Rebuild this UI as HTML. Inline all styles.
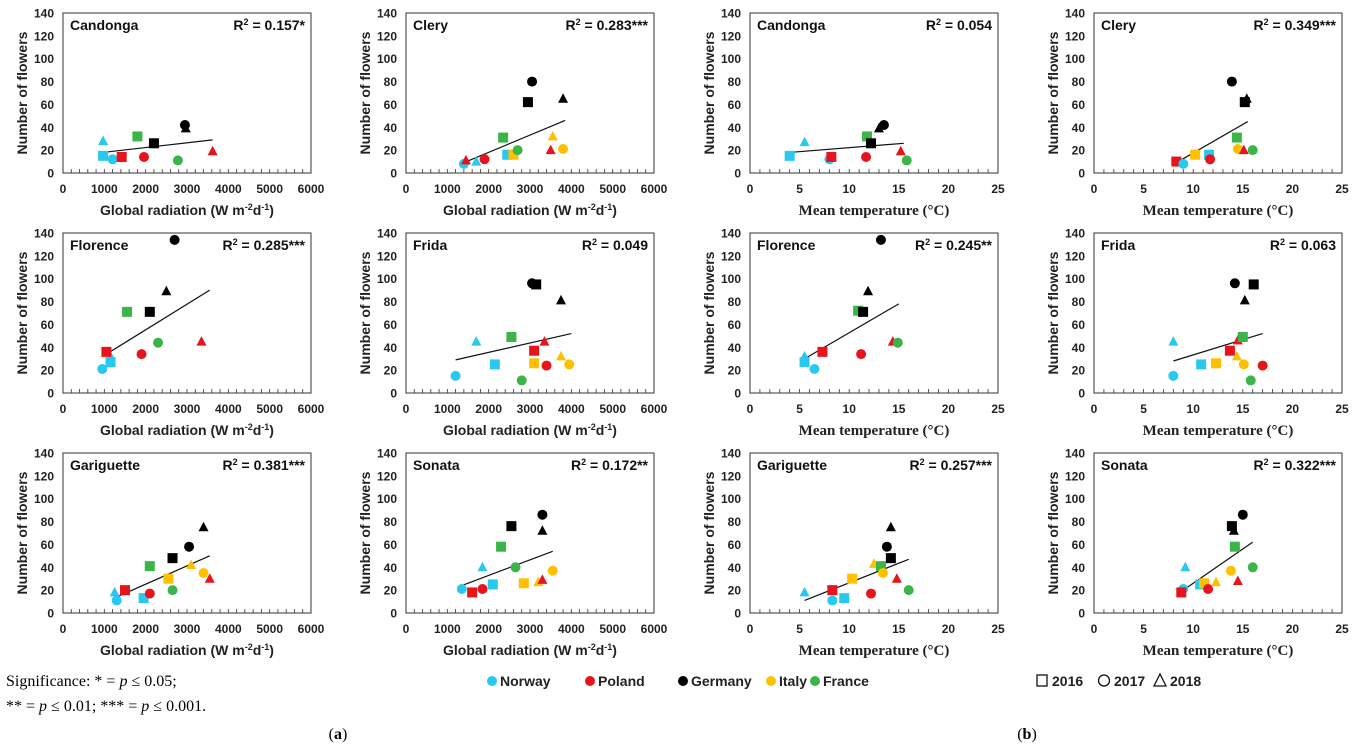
<!DOCTYPE html>
<html><head><meta charset="utf-8"><style>
body{margin:0;background:#fff}
svg{display:block;font-family:"Liberation Sans",sans-serif}
</style></head><body>
<svg id="fig" width="1366" height="747" viewBox="0 0 1366 747" xmlns="http://www.w3.org/2000/svg">
<g id="panels"></g>
<g font-family="Liberation Serif, serif" font-size="16">
<text x="6" y="686">Significance: * = <tspan font-style="italic">p</tspan> ≤ 0.05;</text>
<text x="6" y="711">** = <tspan font-style="italic">p</tspan> ≤ 0.01; *** = <tspan font-style="italic">p</tspan> ≤ 0.001.</text>
<text x="338" y="739" text-anchor="middle">(<tspan font-weight="bold">a</tspan>)</text>
<text x="1027" y="739" text-anchor="middle">(<tspan font-weight="bold">b</tspan>)</text>
</g>
<g id="legend" font-size="14" font-weight="bold"></g>
</svg>
<script>
const colors = {N:"#29c8ef",P:"#e8141c",G:"#000000",I:"#ffc000",F:"#3bb54a"};
const countryNames = ["Norway","Poland","Germany","Italy","France"];
const countryCodes = ["N","P","G","I","F"];
const yearLabels = ["2016","2017","2018"];
const radTicks = [0,1000,2000,3000,4000,5000,6000];
const tempTicks = [0,5,10,15,20,25];
const yTicks = [0,20,40,60,80,100,120,140];
// [country, year(16 square,17 circle,18 triangle), x, y]
const radCandonga = [["N",18,970,28],["N",16,970,15],["N",17,1200,12],["P",16,1420,14],["P",17,1960,14],["F",16,1800,32],["G",16,2200,26],["G",17,2950,42],["G",18,2970,39],["F",17,2780,11],["P",18,3620,19]];
const radClery = [["N",17,1400,8],["P",18,1450,11],["N",18,1700,10],["P",17,1900,12],["F",16,2350,31],["N",16,2450,16],["I",16,2600,16],["F",17,2700,20],["G",16,2950,62],["G",17,3050,80],["G",18,3800,65],["I",18,3550,32],["P",18,3500,20],["I",17,3800,21]];
const radFlorence = [["N",17,950,21],["N",16,1150,27],["N",18,1150,32],["P",16,1050,36],["P",17,1900,34],["F",16,1550,71],["F",17,2300,44],["G",16,2100,71],["G",18,2500,89],["G",17,2700,134],["P",18,3350,45]];
const radFrida = [["N",17,1200,15],["N",18,1700,45],["N",16,2150,25],["F",16,2550,49],["F",17,2800,11],["G",17,3050,96],["G",16,3150,95],["G",18,3750,81],["P",16,3100,37],["I",16,3100,26],["P",18,3350,45],["P",17,3400,24],["I",18,3750,32],["I",17,3950,25]];
const radGariguette = [["N",18,1250,18],["N",17,1300,11],["P",16,1500,20],["N",16,1950,13],["P",17,2100,17],["F",16,2100,41],["I",16,2550,30],["F",17,2650,20],["G",16,2650,48],["G",17,3050,58],["I",18,3100,42],["G",18,3400,75],["I",17,3400,35],["P",18,3550,30]];
const radSonata = [["N",17,1350,21],["P",16,1600,18],["P",17,1850,21],["N",18,1850,40],["N",16,2100,25],["F",16,2300,58],["G",16,2550,76],["F",17,2650,40],["I",16,2850,26],["I",18,3200,27],["P",18,3300,29],["G",17,3300,86],["G",18,3300,72],["I",17,3550,37]];
const tempCandonga = [["N",16,4,15],["N",18,5.5,27],["N",17,8,12],["P",16,8.2,14],["P",17,11.7,14],["F",16,11.8,32],["G",16,12.2,26],["G",18,13,39],["G",17,13.5,42],["P",18,15.2,19],["F",17,15.8,11]];
const tempClery = [["P",16,8.3,10],["N",17,9,8],["I",16,10.2,16],["N",16,11.6,16],["P",17,11.7,12],["G",17,13.9,80],["F",16,14.4,31],["I",17,14.5,21],["P",18,15.1,20],["G",16,15.2,62],["G",18,15.4,65],["F",17,16,20]];
const tempFlorence = [["N",18,5.5,32],["N",16,5.5,27],["N",17,6.5,21],["P",16,7.3,36],["F",16,10.9,72],["G",16,11.4,71],["G",18,11.9,89],["P",17,11.2,34],["G",17,13.2,134],["P",18,14.4,45],["F",17,14.9,44]];
const tempFrida = [["N",18,8,45],["N",17,8,15],["N",16,10.8,25],["I",16,12.3,26],["P",16,13.7,37],["G",17,14.2,96],["I",18,14.4,32],["P",18,14.5,46],["F",16,15,49],["I",17,15.1,25],["G",18,15.2,81],["G",16,16.1,95],["F",17,15.8,11],["P",17,17,24]];
const tempGariguette = [["N",18,5.5,18],["P",16,8.3,20],["N",17,8.3,11],["N",16,9.5,13],["I",16,10.3,30],["P",17,12.2,17],["I",18,12.5,43],["F",16,13.2,41],["I",17,13.4,35],["G",17,13.8,58],["G",16,14.2,48],["G",18,14.2,75],["P",18,14.8,30],["F",17,16,20]];
const tempSonata = [["N",17,9,21],["N",18,9.2,40],["P",16,8.8,18],["N",16,10.7,25],["I",16,11.1,26],["P",17,11.5,21],["I",18,12.3,27],["I",17,13.8,37],["G",16,13.9,76],["G",18,14.1,72],["F",16,14.2,58],["P",18,14.5,28],["G",17,15,86],["F",17,16,40]];
const trends = {
 radCandonga:[970,18,3620,29], radClery:[1400,9,3850,46], radFlorence:[1050,34,3550,90], radFrida:[1200,29,4000,52], radGariguette:[1300,14,3550,50], radSonata:[1350,24,3550,54],
 tempCandonga:[4,18,15.5,26], tempClery:[8.5,10,15.5,45], tempFlorence:[5.5,30,15,78], tempFrida:[8,28,17,52], tempGariguette:[5.5,11,16,47], tempSonata:[9,20,16,62]};
const panelDefs = [
 ["radCandonga",radCandonga,"Candonga","0.157*",0,0,"rad"],["radClery",radClery,"Clery","0.283***",1,0,"rad"],
 ["tempCandonga",tempCandonga,"Candonga","0.054",2,0,"temp"],["tempClery",tempClery,"Clery","0.349***",3,0,"temp"],
 ["radFlorence",radFlorence,"Florence","0.285***",0,1,"rad"],["radFrida",radFrida,"Frida","0.049",1,1,"rad"],
 ["tempFlorence",tempFlorence,"Florence","0.245**",2,1,"temp"],["tempFrida",tempFrida,"Frida","0.063",3,1,"temp"],
 ["radGariguette",radGariguette,"Gariguette","0.381***",0,2,"rad"],["radSonata",radSonata,"Sonata","0.172**",1,2,"rad"],
 ["tempGariguette",tempGariguette,"Gariguette","0.257***",2,2,"temp"],["tempSonata",tempSonata,"Sonata","0.322***",3,2,"temp"]];
const NS="http://www.w3.org/2000/svg";
function mk(tag,attrs,parent){const e=document.createElementNS(NS,tag);for(const k in attrs)e.setAttribute(k,attrs[k]);if(parent)parent.appendChild(e);return e;}
const colLeft=[63,406,750,1094], rowTop=[13,233,453], W=248, H=160;
function marker(g,code,year,cx,cy){
  let m;
  if(year===16){m=mk('rect',{x:cx-5,y:cy-5,width:10,height:10,fill:colors[code]},g);}
  else if(year===17){m=mk('circle',{cx:cx,cy:cy,r:5,fill:colors[code]},g);}
  else {m=mk('polygon',{points:`${cx},${cy-5.5} ${cx+5},${cy+4} ${cx-5},${cy+4}`,fill:colors[code]},g);}
  return m;
}
const root=document.getElementById('panels');
panelDefs.forEach(d=>{
  const [key,pts,name,r2,col,row,kind]=d;
  const L=colLeft[col],T=rowTop[row];
  const xmax=kind==="rad"?6000:25;
  const sx=v=>L+v/xmax*W, sy=v=>T+H-v/140*H;
  const g=mk('g',{},root);
  
  
  const box=mk('rect',{x:L,y:T,width:W,height:H,fill:'none',stroke:'#333','stroke-width':1},g);
  
  
  // minor ticks
  const step=kind==="rad"?200:1;
  for(let v=step;v<xmax;v+=step){const t=mk('line',{x1:sx(v),x2:sx(v),y1:T+H,y2:T+H-4,stroke:'#333','stroke-width':0.8},g);}
  const ticks=kind==="rad"?radTicks:tempTicks;
  ticks.forEach(v=>{const t=mk('text',{x:sx(v),y:T+H+20,'text-anchor':'middle','font-size':12,'font-weight':'bold',fill:'#222'},g);t.textContent=v;});
  yTicks.forEach(v=>{const t=mk('text',{x:L-9,y:sy(v)+4.5,'text-anchor':'end','font-size':12,'font-weight':'bold',fill:'#222'},g);t.textContent=v;});
  const yt=mk('text',{x:0,y:0,transform:`translate(${L-36},${T+H/2}) rotate(-90)`,'text-anchor':'middle','font-size':14,'font-weight':'bold',fill:'#222'},g);
  yt.textContent='Number of flowers';
  
  
  let xt;
  if(kind==="rad"){xt=mk('text',{x:L+W/2,y:T+H+42,'text-anchor':'middle','font-size':14,'font-weight':'bold',fill:'#222'},g);
    xt.innerHTML='Global radiation (W m<tspan baseline-shift="super" font-size="9">-2</tspan>d<tspan baseline-shift="super" font-size="9">-1</tspan>)';}
  else {xt=mk('text',{x:L+W/2,y:T+H+42,'text-anchor':'middle','font-size':15,'font-weight':'bold','font-family':'Liberation Serif, serif',fill:'#222'},g);xt.textContent='Mean temperature  (°C)';}
  
  
  const nm=mk('text',{x:L+7,y:T+17,'font-size':14,'font-weight':'bold',fill:'#111'},g);
  nm.textContent=name;
  
  
  const rt=mk('text',{x:L+W-6,y:T+17,'text-anchor':'end','font-size':14,'font-weight':'bold',fill:'#111'},g);
  rt.innerHTML='R<tspan baseline-shift="super" font-size="9">2</tspan> = '+r2;
  
  
  const tr=trends[key];
  const tl=mk('line',{x1:sx(tr[0]),y1:sy(tr[1]),x2:sx(tr[2]),y2:sy(tr[3]),stroke:'#111','stroke-width':1.2},g);
  
  
  pts.forEach(p=>{const m=marker(g,p[0],p[1],sx(p[2]),sy(p[3]));
    
    });
});
// legend
const lg=document.getElementById('legend');
const legX=[492,590,683,771,815];
countryNames.forEach((n,i)=>{
  const c=mk('circle',{cx:legX[i],cy:681,r:5,fill:colors[countryCodes[i]]},lg);
  
  
  const t=mk('text',{x:legX[i]+8,y:686,fill:'#222'},lg);
  t.textContent=n;
  
  
});
const yrX=[1042,1104,1160];
yearLabels.forEach((y,i)=>{
  const x=yrX[i];let m;
  if(i===0)m=mk('rect',{x:x-5,y:675,width:10,height:11,fill:'none',stroke:'#111','stroke-width':1.3},lg);
  else if(i===1)m=mk('circle',{cx:x,cy:680.5,r:5.5,fill:'none',stroke:'#111','stroke-width':1.3},lg);
  else m=mk('polygon',{points:`${x},${674} ${x+6},${686} ${x-6},${686}`,fill:'none',stroke:'#111','stroke-width':1.3},lg);
  
  
  const t=mk('text',{x:x+10,y:686,fill:'#222'},lg);
  t.textContent=y;
  
  
});
</script>
</body></html>
